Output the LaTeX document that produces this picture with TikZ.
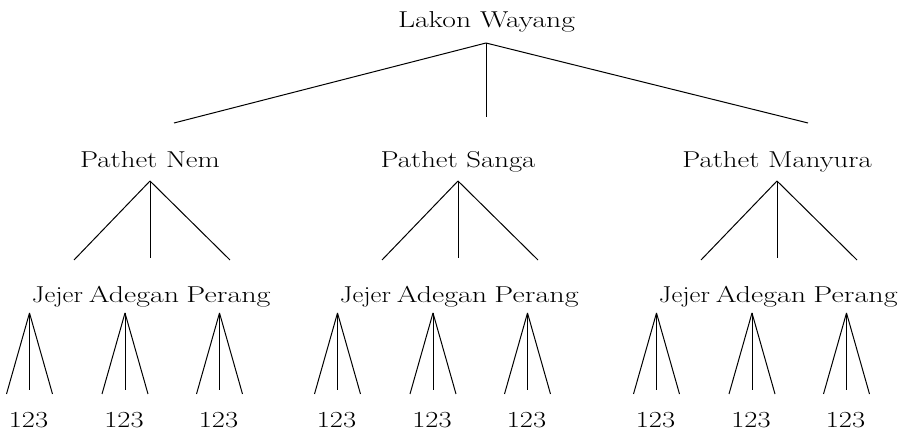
\documentclass[tikz,border=0pt]{standalone}
\usepackage{fontspec}
\usepackage{graphicx}
\newcommand{\wideword}[2][1.25]{\scalebox{#1}[1]{#2}}
\tikzset{
  lbl/.style={anchor=base, inner sep=0pt, font=\fontsize{23}{27}\selectfont},
  edge/.style={line width=1pt, line join=miter},
}
\begin{document}
\begin{tikzpicture}[x=1pt, y=-1pt]
\useasboundingbox (0,0) rectangle (903,435);
% root
\node[lbl] (root) at (486.5,28) {\wideword[1.29]{Lakon Wayang}};
\coordinate (rootapex) at (486,43);
\coordinate (rl) at (174,123);
\coordinate (rm) at (486,117);
\coordinate (rr) at (808,123);
\draw[edge] (rootapex) -- (rl);
\draw[edge] (rootapex) -- (rm);
\draw[edge] (rootapex) -- (rr);
% groups
\foreach \X/\name/\g in {150/Nem/a, 458/Sanga/b, 777/Manyura/c}{
  \node[lbl] (p\g) at (\X,168) {\wideword[1.25]{Pathet \name}};
  \coordinate (p\g apex) at (\X,181);
  \coordinate (p\g l) at ({\X-76},260);
  \coordinate (p\g m) at (\X,258);
  \coordinate (p\g r) at ({\X+80},260);
  \draw[edge] (p\g apex) -- (p\g l);
  \draw[edge] (p\g apex) -- (p\g m);
  \draw[edge] (p\g apex) -- (p\g r);
  \node[lbl] (j\g) at ({\X-92.5},303) {\wideword[1.16]{Jejer}};
  \node[lbl] (d\g) at ({\X-16},303) {\wideword[1.30]{Adegan}};
  \node[lbl] (q\g) at ({\X+78.5},303) {\wideword[1.31]{Perang}};
  \foreach \dx/\k in {-120.5/1, -25/2, 69.5/3}{
    \coordinate (t\g\k) at ({\X+\dx},313);
    \coordinate (t\g\k l) at ({\X+\dx-23},394);
    \coordinate (t\g\k m) at ({\X+\dx},390);
    \coordinate (t\g\k r) at ({\X+\dx+23},394);
    \draw[edge] (t\g\k) -- (t\g\k l);
    \draw[edge] (t\g\k) -- (t\g\k m);
    \draw[edge] (t\g\k) -- (t\g\k r);
    \node[lbl] (n\g\k) at ({\X+\dx-1},428) {\wideword[1.24]{123}};
  }
}
\end{tikzpicture}
\end{document}
